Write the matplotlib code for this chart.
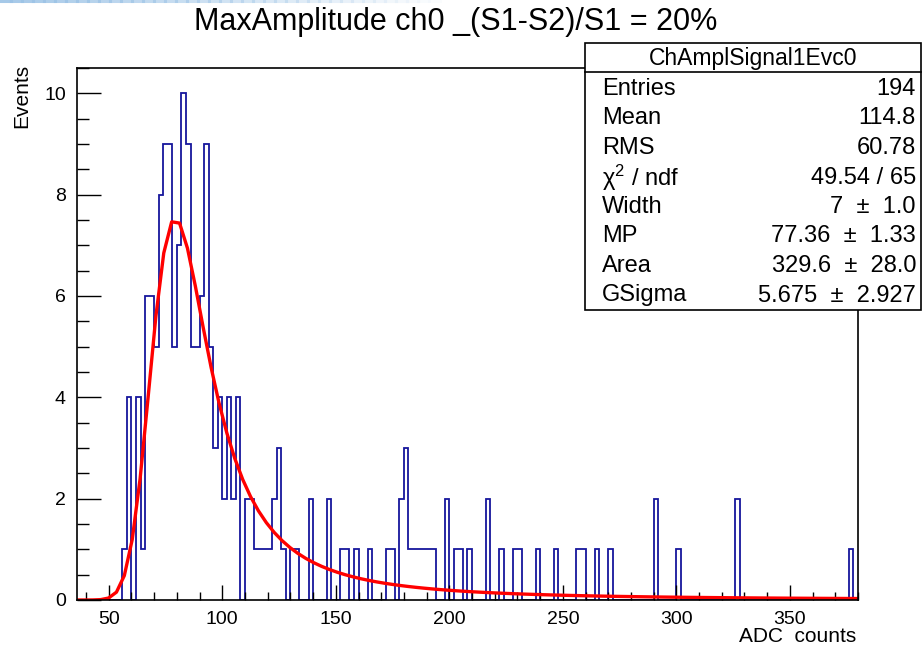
import numpy as np
import matplotlib
matplotlib.use("Agg")
import matplotlib.pyplot as plt
from matplotlib.patches import Rectangle
from matplotlib.lines import Line2D

# ---------------- data ----------------
hist_lo, hist_hi, bin_width = 36, 380, 2
nonzero_left_edges = [56, 58, 62, 64, 66, 68, 70, 72, 74, 76, 78, 80, 82, 84, 86, 88,
                      90, 92, 94, 96, 98, 100, 102, 104, 106, 110, 112, 114, 116, 118,
                      120, 122, 124, 126, 130, 132, 138, 146, 152, 154, 158, 164, 172,
                      174, 178, 180, 182, 184, 186, 188, 190, 192, 198, 202, 204, 208,
                      216, 222, 228, 230, 238, 246, 256, 258, 264, 270, 290, 300, 326, 376]
nonzero_counts = [1, 4, 4, 1, 6, 6, 5, 8, 9, 9, 5, 7, 10, 9, 5, 5,
                  6, 9, 5, 3, 4, 2, 4, 2, 4, 2, 2, 1, 1, 1,
                  1, 2, 3, 1, 1, 1, 2, 2, 1, 1, 1, 1, 1,
                  1, 2, 3, 1, 1, 1, 1, 1, 1, 2, 1, 1, 1,
                  2, 1, 1, 1, 1, 1, 1, 1, 1, 1, 2, 1, 2, 1]

# fit parameters (Landau (x) Gauss) from the stats box
fit_width = 7.0
fit_mp = 77.36
fit_area = 329.6
fit_gsigma = 5.675

title = "MaxAmplitude ch0 _(S1-S2)/S1 = 20%"
stats_name = "ChAmplSignal1Evc0"
stats_labels = ["Entries", "Mean", "RMS", "\u03c7$^{2}$ / ndf", "Width", "MP", "Area", "GSigma"]
stats_values = ["194", "114.8", "60.78", "49.54 / 65", "7  \u00b1  1.0", "77.36  \u00b1  1.33",
                "329.6  \u00b1  28.0", "5.675  \u00b1  2.927"]
x_major = [50, 100, 150, 200, 250, 300, 350]
y_major = [0, 2, 4, 6, 8, 10]

# ---------------- histogram array ----------------
edges = np.arange(hist_lo, hist_hi + bin_width, bin_width)
counts = np.zeros(len(edges) - 1)
for e, c in zip(nonzero_left_edges, nonzero_counts):
    counts[(e - hist_lo) // bin_width] = c

# ---------------- langaus fit function ----------------
def landau_pdf_grid(lam):
    t = np.linspace(1e-9, 60.0, 30001)
    out = np.zeros_like(lam)
    base = -t * np.log(t)
    s = np.sin(np.pi * t)
    for i, l in enumerate(lam):
        if l < -3.2:
            continue
        f = np.exp(base - l * t) * s
        out[i] = np.trapezoid(f, t) / np.pi
    return np.clip(out, 0, None)

lam_grid = np.linspace(-3.2, 60, 1500)
pdf_grid = landau_pdf_grid(lam_grid)

def landau(xx, mpv, sigma):
    lam = (xx - mpv) / sigma
    return np.interp(lam, lam_grid, pdf_grid, left=0.0, right=0.0)

def langaus(x, width, mp, area, gsig):
    mpshift = -0.22278298
    mpc = mp - mpshift * width
    npts, sc = 100, 5.0
    res = []
    for xv in x:
        xlow, xupp = xv - sc * gsig, xv + sc * gsig
        step = (xupp - xlow) / npts
        i = np.arange(1, npts // 2 + 1)
        xx1 = xlow + (i - 0.5) * step
        xx2 = xupp - (i - 0.5) * step
        g1 = np.exp(-0.5 * ((xv - xx1) / gsig) ** 2)
        g2 = np.exp(-0.5 * ((xv - xx2) / gsig) ** 2)
        ssum = np.sum(landau(xx1, mpc, width) / width * g1) + np.sum(landau(xx2, mpc, width) / width * g2)
        res.append(area * step * ssum / np.sqrt(2 * np.pi) / gsig)
    return np.array(res)

fx = np.linspace(hist_lo, hist_hi, 100)
fy = langaus(fx, fit_width, fit_mp, fit_area, fit_gsigma)

# ---------------- figure ----------------
W, H = 924, 645
plt.rcParams["font.family"] = ["Liberation Sans", "DejaVu Sans"]
plt.rcParams["mathtext.fontset"] = "custom"
plt.rcParams["mathtext.rm"] = "Liberation Sans"
plt.rcParams["mathtext.it"] = "Liberation Sans"
fig = plt.figure(figsize=(W / 100, H / 100), dpi=100)

def px(x, y):
    return x / W, 1 - y / H

# faint screenshot artefact at the top-left
for k in range(40):
    x0, x1 = k * 11, (k + 1) * 11
    fig.lines.append(Line2D([x0 / W, x1 / W], [1 - 1.2 / H, 1 - 1.2 / H], transform=fig.transFigure,
                            color="#9cc3e6", lw=2.2, alpha=max(0.0, 0.9 - k * 0.022)))

ax_l, ax_r, ax_t, ax_b = 77, 858, 68, 600
ax = fig.add_axes([ax_l / W, 1 - ax_b / H, (ax_r - ax_l) / W, (ax_b - ax_t) / H])
ax.stairs(counts, edges, color="#16169c", lw=1.3, baseline=0)
ax.plot(fx, fy, color="#ff0000", lw=2.4, solid_joinstyle="round")
ax.set_xlim(hist_lo, hist_hi)
ax.set_ylim(0, 10.5)

ax.set_xticks(x_major)
ax.set_xticks(np.arange(40, 381, 10), minor=True)
ax.set_yticks(y_major)
ax.set_yticks(np.arange(0, 10.6, 0.5), minor=True)
ax.tick_params(axis="x", which="major", direction="in", length=11, width=1, pad=8, labelsize=14)
ax.tick_params(axis="x", which="minor", direction="in", length=5.5, width=1)
ax.tick_params(axis="y", which="major", direction="in", length=17, width=1, pad=8, labelsize=14)
ax.tick_params(axis="y", which="minor", direction="in", length=8.5, width=1)
for sp in ax.spines.values():
    sp.set_linewidth(1.2)

# titles
fig.text(*px(456, 22), title, ha="center", va="center", fontsize=22)
fig.text(*px(22, 64), "Events", rotation=90, ha="center", va="top", fontsize=15)
fig.text(*px(856, 636), "ADC  counts", ha="right", va="center", fontsize=15)

# stats box
bx0, bx1, by0, by1 = 585, 921, 43, 310
fig.patches.append(Rectangle(px(bx0, by1), (bx1 - bx0) / W, (by1 - by0) / H,
                             transform=fig.transFigure, facecolor="white",
                             edgecolor="black", lw=1.2, zorder=5))
fig.lines.append(Line2D([bx0 / W, bx1 / W], [1 - 72 / H, 1 - 72 / H],
                        transform=fig.transFigure, color="black", lw=1.2, zorder=6))
fig.text(*px((bx0 + bx1) / 2, 58), stats_name, ha="center", va="center", fontsize=16.5, zorder=7)
row_y0, row_dy = 89, 29.5
for i, (lab, val) in enumerate(zip(stats_labels, stats_values)):
    yy = row_y0 + i * row_dy
    fig.text(*px(602, yy), lab, ha="left", va="center", fontsize=17, zorder=7)
    fig.text(*px(916, yy), val, ha="right", va="center", fontsize=17, zorder=7)

fig.savefig("out.png", dpi=100)
